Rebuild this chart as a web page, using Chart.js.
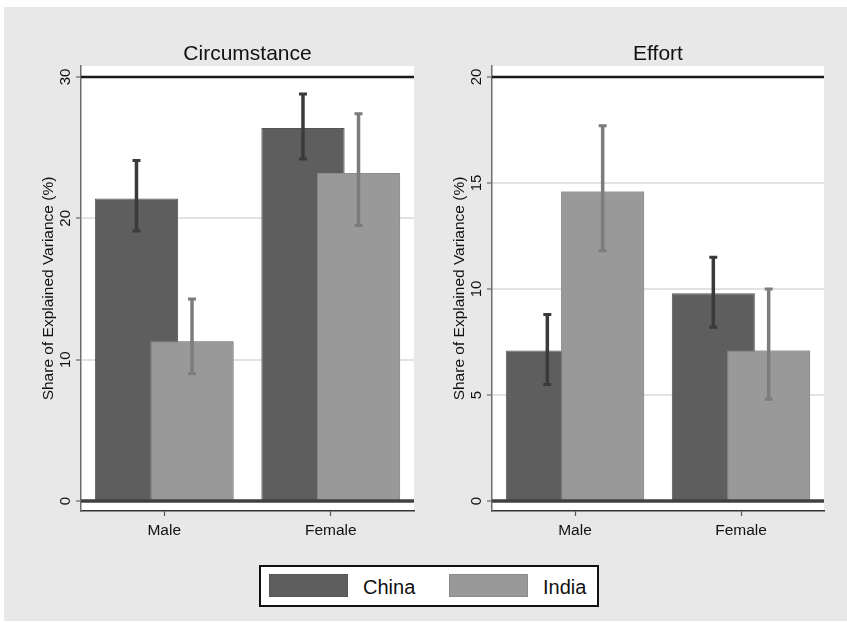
<!DOCTYPE html>
<html>
<head>
<meta charset="utf-8">
<title>Share of Explained Variance</title>
<script src="https://cdn.jsdelivr.net/npm/chart.js@4.4.1/dist/chart.umd.min.js"></script>
<style>
  html, body { margin: 0; padding: 0; background: #fff; }
  body { width: 847px; height: 623px; position: relative; overflow: hidden; font-family: "Liberation Sans", Arial, sans-serif; }
  #bg { position: absolute; left: 4px; top: 7px; width: 843px; height: 614px; background: #e8e8e8; }
  canvas { position: absolute; top: 0; }
  #left { left: 0; }
  #right { left: 420px; }
  #legend { position: absolute; left: 259px; top: 565px; width: 340px; height: 42px; box-sizing: border-box; border: 2px solid #111; background: #fff; }
  #legend .sw { position: absolute; top: 7px; width: 79px; height: 23px; box-sizing: border-box; }
  #legend .lab { position: absolute; top: 9px; font-size: 20px; line-height: 22px; color: #111; white-space: nowrap; }
</style>
</head>
<body>
<div id="bg"></div>
<canvas id="left" width="420" height="623"></canvas>
<canvas id="right" width="427" height="623"></canvas>
<div id="legend"></div>
<script>
// values
const categories = ['Male', 'Female'];
const seriesNames = ['China', 'India'];
const yTitle = 'Share of Explained Variance (%)';

const circTitle = 'Circumstance';
const circTicks = [0, 10, 20, 30];
const circChina = [21.4, 26.4];
const circIndia = [11.3, 23.2];
const circChinaLo = [19.1, 24.2];
const circChinaHi = [24.1, 28.8];
const circIndiaLo = [9.0, 19.5];
const circIndiaHi = [14.3, 27.4];

const effTitle = 'Effort';
const effTicks = [0, 5, 10, 15, 20];
const effChina = [7.1, 9.8];
const effIndia = [14.6, 7.1];
const effChinaLo = [5.5, 8.2];
const effChinaHi = [8.8, 11.5];
const effIndiaLo = [11.8, 4.8];
const effIndiaHi = [17.7, 10.0];

const FILL = ['#5e5e5e', '#999999'];
const EDGE = ['#555555', '#8c8c8c'];
const CI_COLOR = ['#3a3a3a', '#7c7c7c'];
const FONT = '"Liberation Sans", Arial, sans-serif';

function hline(ctx, area, y, color, width) {
  ctx.save();
  ctx.strokeStyle = color; ctx.lineWidth = width;
  ctx.beginPath(); ctx.moveTo(area.left, y); ctx.lineTo(area.right, y); ctx.stroke();
  ctx.restore();
}

const panelDecor = {
  id: 'panelDecor',
  beforeDraw(chart) {
    const { ctx, chartArea: a } = chart;
    ctx.save();
    ctx.fillStyle = '#fff';
    ctx.fillRect(a.left, a.top, a.right - a.left, a.bottom - a.top);
    ctx.restore();
  },
  afterDatasetsDraw(chart, args, opts) {
    const ctx = chart.ctx, area = chart.chartArea, y = chart.scales.y;
    // India is drawn over China where the bars overlap
    chart.getDatasetMeta(1).controller.draw();
    hline(ctx, area, y.getPixelForValue(0), '#404040', 3.5);
    hline(ctx, area, y.getPixelForValue(opts.top), '#1a1a1a', 2.5);
    chart.data.datasets.forEach((ds, i) => {
      chart.getDatasetMeta(i).data.forEach((bar, j) => {
        const lo = y.getPixelForValue(ds.ciLo[j]), hi = y.getPixelForValue(ds.ciHi[j]);
        ctx.save();
        ctx.strokeStyle = CI_COLOR[i];
        ctx.lineWidth = 3.5;
        ctx.beginPath(); ctx.moveTo(bar.x, lo); ctx.lineTo(bar.x, hi); ctx.stroke();
        ctx.lineWidth = 3;
        ctx.beginPath();
        ctx.moveTo(bar.x - 4, lo); ctx.lineTo(bar.x + 4, lo);
        ctx.moveTo(bar.x - 4, hi); ctx.lineTo(bar.x + 4, hi);
        ctx.stroke();
        ctx.restore();
      });
    });
  },
  afterDraw(chart, args, opts) {
    const ctx = chart.ctx, area = chart.chartArea, y = chart.scales.y;
    ctx.save();
    ctx.fillStyle = '#111';
    ctx.textAlign = 'center';
    ctx.textBaseline = 'middle';
    ctx.font = '21px ' + FONT;
    ctx.fillText(opts.title, (area.left + area.right) / 2, 54);
    ctx.font = '15px ' + FONT;
    for (const t of y.ticks) {
      ctx.save();
      ctx.translate(area.left - 15.5, y.getPixelForValue(t.value));
      ctx.rotate(-Math.PI / 2);
      ctx.fillText(String(t.value), 0, 0);
      ctx.restore();
    }
    ctx.font = '15.5px ' + FONT;
    ctx.translate(area.left - 32, (area.top + area.bottom) / 2);
    ctx.rotate(-Math.PI / 2);
    ctx.fillText(yTitle, 0, 0);
    ctx.restore();
  }
};

function makePanel(id, p) {
  const datasets = [p.china, p.india].map((vals, i) => ({
    label: seriesNames[i],
    data: vals,
    ciLo: p.lo[i],
    ciHi: p.hi[i],
    backgroundColor: FILL[i],
    borderColor: EDGE[i],
    borderWidth: 1,
    categoryPercentage: 0.667,
    barPercentage: 1.5
  }));
  return new Chart(document.getElementById(id), {
    type: 'bar',
    data: { labels: categories, datasets },
    options: {
      responsive: false,
      animation: false,
      layout: { padding: { left: 0, right: p.padRight, top: 66, bottom: 52 } },
      plugins: {
        legend: { display: false },
        tooltip: { enabled: false },
        panelDecor: { title: p.title, top: p.ticks[p.ticks.length - 1] }
      },
      scales: {
        x: {
          afterFit: s => { s.height = 60; },
          grid: { display: true, drawOnChartArea: false, offset: false, tickLength: 5, tickColor: '#555', tickWidth: 1.2 },
          border: { display: true, color: '#333', width: 1.5 },
          ticks: { color: '#111', font: { family: FONT, size: 15.5 }, padding: 5 }
        },
        y: {
          min: p.min, max: p.max,
          afterFit: s => { s.width = p.axisWidth; },
          afterBuildTicks: s => { s.ticks = p.ticks.map(v => ({ value: v })); },
          grid: {
            color: c => (c.tick && (c.tick.value === 0 || c.tick.value === p.ticks[p.ticks.length - 1])) ? 'rgba(0,0,0,0)' : '#e2e2e2',
            lineWidth: 2, tickLength: 5, tickColor: '#666', tickWidth: 1.2
          },
          border: { display: true, color: '#6e6e6e', width: 1.5 },
          ticks: { display: false }
        }
      }
    },
    plugins: [panelDecor]
  });
}

makePanel('left', {
  title: circTitle, ticks: circTicks, min: -0.71, max: 30.78,
  china: circChina, india: circIndia,
  lo: [circChinaLo, circIndiaLo], hi: [circChinaHi, circIndiaHi],
  axisWidth: 81, padRight: 6
});
makePanel('right', {
  title: effTitle, ticks: effTicks, min: -0.47, max: 20.52,
  china: effChina, india: effIndia,
  lo: [effChinaLo, effIndiaLo], hi: [effChinaHi, effIndiaHi],
  axisWidth: 72, padRight: 23
});

// legend
const legendEl = document.getElementById('legend');
const swLeft = [8, 188], labLeft = [102, 282];
seriesNames.forEach((name, i) => {
  const sw = document.createElement('div');
  sw.className = 'sw';
  sw.style.left = swLeft[i] + 'px';
  sw.style.background = FILL[i];
  sw.style.border = '1px solid ' + EDGE[i];
  legendEl.appendChild(sw);
  const lab = document.createElement('span');
  lab.className = 'lab';
  lab.style.left = labLeft[i] + 'px';
  lab.textContent = name;
  legendEl.appendChild(lab);
});
</script>
</body>
</html>
